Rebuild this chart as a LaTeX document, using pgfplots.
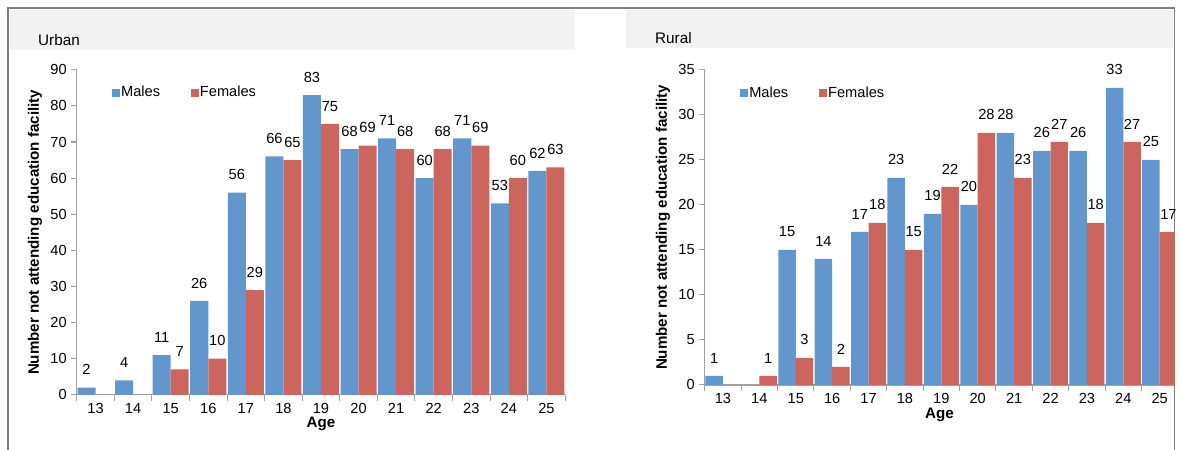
\documentclass[border=0pt]{standalone}
\usepackage{pgfplots}
\pgfplotsset{compat=1.18}
\usepackage{fontspec}
\setmainfont{Liberation Sans}
\definecolor{mblue}{RGB}{98,150,204}
\definecolor{fred}{RGB}{204,101,94}
\definecolor{framec}{RGB}{140,125,115}
\definecolor{band}{RGB}{242,242,242}
\definecolor{axgray}{RGB}{160,160,160}
\pgfplotsset{
  panel/.style={
    scale only axis,
    anchor=south west,
    ybar=0pt, bar width=0.48,
    xmin=12.5,
    ymin=0,
    axis x line*=bottom, axis y line*=left,
    axis line style={axgray, line width=1.1pt},
    xtick={13,...,25},
    minor xtick={12.5,13.5,...,25.5},
    major x tick style={draw=none},
    minor x tick style={axgray, line width=0.8pt},
    y tick style={axgray, line width=0.8pt},
    tick align=outside, major tick length=4pt, minor tick length=5pt,
    ticklabel style={font=\fontsize{11}{13}\selectfont, text=black},
    xticklabel style={inner sep=1pt, yshift=-1.5pt},
    /pgf/number format/assume math mode=true,
    nodes near coords,
    every node near coord/.append style={font=\fontsize{11}{13}\selectfont, text=black, yshift=6pt},
    label style={font=\fontsize{11.4}{13}\selectfont\bfseries, inner sep=1pt},
    legend columns=2,
    legend style={draw=none, fill=none, font=\fontsize{11}{13}\selectfont,
      /tikz/every even column/.append style={column sep=22pt},
      nodes={inner sep=1pt}},
    legend image code/.code={\fill[##1] (0pt,-3pt) rectangle (6pt,3pt);},
    ylabel={Number not attending education facility},
    xlabel={Age},
  }
}
\begin{document}
\begin{tikzpicture}
\begin{scope}[x=0.75pt,y=-0.75pt]
\path[use as bounding box] (0,0) rectangle (1181,451);
\fill[band] (10,10) rectangle (577,50);
\fill[band] (628,10) rectangle (1177,48);
\draw[framec, line width=1.1pt] (8,451) -- (8,8) -- (1178,8) -- (1178,451);
\node[anchor=west, inner sep=0pt, font=\fontsize{11.5}{13}\selectfont] at (38,40) {Urban};
\node[anchor=west, inner sep=0pt, font=\fontsize{11.5}{13}\selectfont] at (657,38) {Rural};
\end{scope}

% Urban
\begin{axis}[panel,
  at={(57.75pt,-297pt)},
  width=367.5pt, height=244.5pt,
  xmax=25.5, ymax=90, ytick={0,10,...,90},
  ylabel style={at={(axis description cs:-0.0857,0.5)}, anchor=center},
  xlabel style={at={(axis description cs:0.5,-0.09)}, anchor=center},
  legend style={at={(axis description cs:0.063,0.93)}, anchor=west},
]
\addplot[fill=mblue, draw=none] coordinates {(13,2) (14,4) (15,11) (16,26) (17,56) (18,66) (19,83) (20,68) (21,71) (22,60) (23,71) (24,53) (25,62)};
\addplot[fill=fred, draw=none] coordinates {(15,7) (16,10) (17,29) (18,65) (19,75) (20,69) (21,68) (22,68) (23,69) (24,60) (25,63)};
\legend{Males, Females}
\end{axis}

% Rural
\begin{axis}[panel,
  at={(530.25pt,-289.5pt)},
  width=353.25pt, height=237pt,
  xmax=25.4, ymax=35, ytick={0,5,...,35},
  ylabel style={at={(axis description cs:-0.089,0.5)}, anchor=center},
  xlabel style={at={(axis description cs:0.5,-0.097)}, anchor=center},
  legend style={at={(axis description cs:0.066,0.927)}, anchor=west},
]
\addplot[fill=mblue, draw=none] coordinates {(13,1) (15,15) (16,14) (17,17) (18,23) (19,19) (20,20) (21,28) (22,26) (23,26) (24,33) (25,25)};
\addplot[fill=fred, draw=none] coordinates {(14,1) (15,3) (16,2) (17,18) (18,15) (19,22) (20,28) (21,23) (22,27) (23,18) (24,27) (25,17)};
\legend{Males, Females}
\end{axis}
\end{tikzpicture}
\end{document}
